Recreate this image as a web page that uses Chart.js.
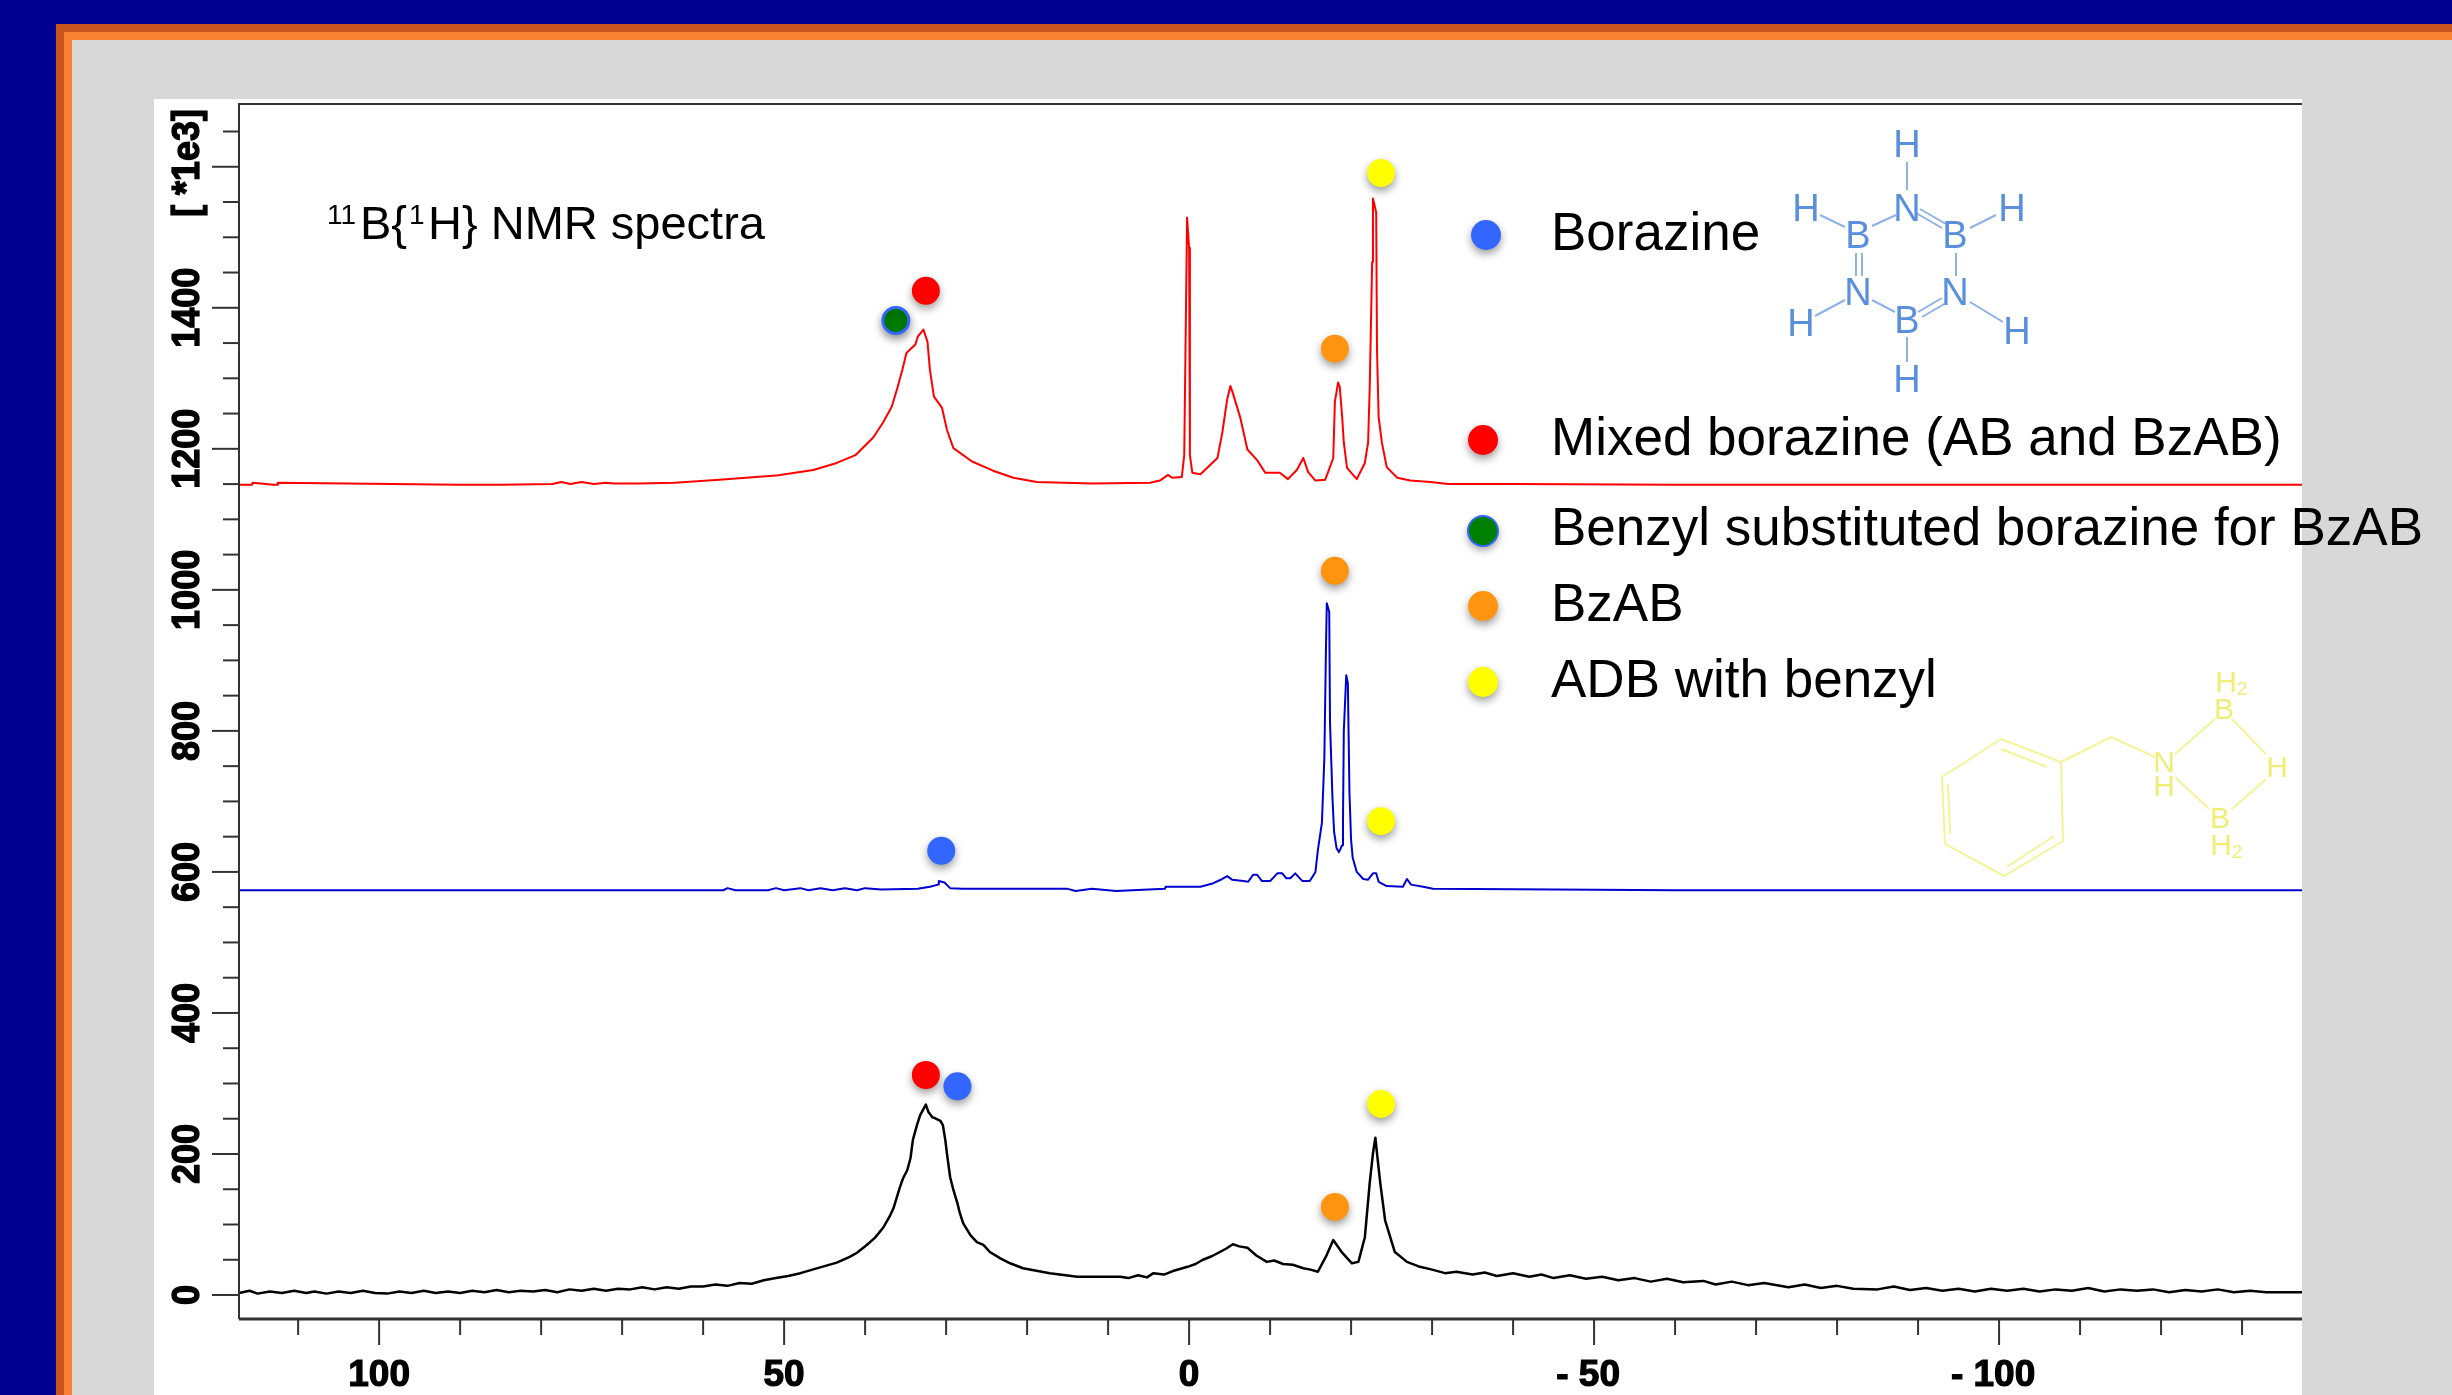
<!DOCTYPE html>
<html>
<head>
<meta charset="utf-8">
<title>11B{1H} NMR spectra</title>
<script src="https://cdn.jsdelivr.net/npm/chart.js@4/dist/chart.umd.js"></script>
<style>
  html, body { margin: 0; padding: 0; background: #d8d8d8; }
  canvas { display: block; }
</style>
</head>
<body>
<canvas id="grafico" width="2452" height="1395"></canvas>
<script>
// espectro superior (rojo)
const rojoX = [117.3,115.7,115.6,113,112.6,112.5,90,85,78.6,77.5,76.4,75,73.5,72,71,68,63.5,58,51,50.5,46.4,43.5,41.2,39,37.8,36.7,36,35.4,34.9,33.8,33.5,32.8,32.3,32,31.5,30.5,29.9,29.1,26.8,24.2,21.7,18.8,12,4.8,3.6,2.6,2.1,0.9,0.6,0.25,0,-0.1,-0.4,-1.4,-3.5,-4.1,-4.7,-5.1,-5.4,-6.3,-7.2,-8.4,-9.4,-11.2,-12.2,-13.3,-14.1,-14.7,-15.6,-16.8,-17.8,-18,-18.4,-18.6,-18.9,-19.1,-19.5,-20.7,-21.7,-22.1,-22.3,-22.6,-22.7,-23.1,-23.2,-23.4,-23.8,-24.4,-25.7,-27.3,-29.8,-32,-40,-60,-137.4];
const rojoY = [1149,1149,1152,1149,1149,1152,1149,1149,1150,1153,1150,1153,1150,1152,1151,1151,1152,1156,1162,1163,1170,1180,1191,1216,1237,1260,1287,1312,1336,1348,1359,1369,1352,1312,1274,1258,1227,1201,1182,1169,1159,1153,1151,1152,1155,1163,1159,1160,1191,1528,1485,1191,1166,1164,1187,1223,1270,1289,1279,1245,1199,1184,1166,1166,1157,1170,1187,1167,1155,1156,1187,1267,1294,1288,1245,1209,1173,1157,1180,1209,1287,1465,1555,1535,1340,1245,1209,1174,1159,1155,1153,1150,1150,1149,1149];

// espectro central (azul)
const azulX = [117.3,80,57.5,57,56,52,51,50,48,47,45.5,44,42.5,41,40,38,33.5,32,31,30.9,30.2,29.5,28,20,15,14,12,9,3,2.9,-1.4,-3,-4.1,-4.7,-5.3,-6.7,-7.3,-7.9,-8.4,-9,-10,-10.9,-11.5,-12,-12.5,-13.1,-14,-14.9,-15.6,-15.9,-16.4,-16.7,-16.9,-17,-17.3,-17.4,-17.7,-17.9,-18.2,-18.5,-18.9,-19,-19.1,-19.4,-19.6,-19.8,-20,-20.2,-20.7,-21.5,-22.1,-22.7,-23.1,-23.4,-24.4,-26.4,-26.9,-27.4,-28.9,-30.1,-45,-60,-137.4];
const azulY = [574,574,574,577,574,574,577,574,577,574,577,574,577,574,577,575,576,579,582,587,585,577,576,576,576,573,576,573,576,579,579,584,590,594,589,587,586,596,596,587,587,598,598,591,591,598,587,587,600,631,670,762,919,981,969,811,705,657,634,628,638,674,799,879,868,712,645,620,600,590,589,598,598,586,580,579,590,582,579,576,575,574,574];

// espectro inferior (negro)
const negroX = [117.3,116,115,113.5,112,110.5,109,108,106.5,105,103.5,102,100.5,99,97.5,96,94.5,93,91.5,90,88.5,87,85.5,84,82.5,81,79.5,78,76.5,75,73.5,72,70.5,69,67.5,66,64.5,63,61.5,60,58.5,57,55.5,54,52.5,51,49.5,48,46.5,45,43.5,41.9,41,39.8,38.8,37.8,36.9,36.5,35.7,35.3,34.8,34.4,34.1,33.6,33.2,32.5,32.2,31.7,31.4,30.7,30.4,30.1,29.9,29.5,29.1,28.6,28.3,27.9,27,26.2,25.4,24.6,23.3,22.1,20.5,17.2,13.8,9.8,8.5,7.5,6.3,5.2,4.4,3.1,2,0.2,-0.8,-1.7,-2.8,-3.8,-4.6,-5.4,-6.2,-7.2,-8.3,-9.6,-10.5,-11.6,-12.8,-14.1,-15,-15.9,-17,-17.8,-18.9,-20.1,-20.9,-21.7,-22.3,-22.7,-23,-23.2,-23.6,-24.2,-25.4,-26.9,-28.5,-30,-31.6,-33,-35,-36.5,-38,-40,-42,-43.5,-45,-47,-49,-51,-53,-55,-57,-59,-61,-63.5,-65,-67,-69,-71,-74,-76,-78,-80,-82,-85,-87,-89,-91,-93,-95,-97,-99,-101,-103,-105,-107,-109,-111,-113,-115,-117,-119,-121,-123,-125,-127,-129,-131,-133,-137.4];
const negroY = [3,6,2,5,3,6,3,5,2,5,3,6,3,2,5,3,6,3,5,3,6,4,7,4,6,5,7,4,8,6,9,6,9,8,11,8,11,9,12,12,15,13,17,16,21,24,27,31,36,41,46,54,60,71,81,95,113,123,153,166,177,194,220,241,255,270,260,252,251,247,241,220,201,167,149,130,116,102,85,75,71,61,52,45,38,31,26,26,26,24,28,25,31,29,34,40,44,50,55,61,66,72,69,67,56,47,49,44,43,38,36,33,57,78,60,45,47,82,159,201,223,201,159,106,61,47,40,36,31,33,29,32,27,31,26,29,24,28,23,26,21,24,19,23,18,20,15,19,14,17,11,15,10,13,9,8,12,7,10,6,9,5,9,6,9,5,8,6,10,5,8,6,8,4,7,5,8,4,6,4,4];

// puntos de color sobre los picos
const borazinaX = [30.6, 28.6];
const borazinaY = [630, 296];
const mixtaX = [32.5, 32.5];
const mixtaY = [1424, 312];
const bencilX = [36.2];
const bencilY = [1382];
const bzabX = [-18, -18, -18];
const bzabY = [1342, 1027, 125];
const adbX = [-23.7, -23.7, -23.7];
const adbY = [1591, 672, 271];

// ejes y textos
const ticksX = [110,100,90,80,70,60,50,40,30,20,10,0,-10,-20,-30,-40,-50,-60,-70,-80,-90,-100,-110,-120,-130];
const ticksY = [0,50,100,150,200,250,300,350,400,450,500,550,600,650,700,750,800,850,900,950,1000,1050,1100,1150,1200,1250,1300,1350,1400,1450,1500,1550,1600,1650];
const valoresEtiquetaX = [100, 50, 0, -50, -100];
const etiquetasX = ['100', '50', '0', '- 50', '- 100'];
const etiquetasY = [0, 200, 400, 600, 800, 1000, 1200, 1400];
const unidadY = '[ *1e3]';
const leyenda = ['Borazine', 'Mixed borazine (AB and BzAB)', 'Benzyl substituted borazine for BzAB', 'BzAB', 'ADB with benzyl'];

const AZUL_PUNTO = '#3366ff', ROJO = '#ff0000', VERDE = '#007f00', NARANJA = '#ff9410', AMARILLO = '#ffff00';
const coloresLeyenda = [AZUL_PUNTO, ROJO, VERDE, NARANJA, AMARILLO];
const posLeyenda = [[1486, 235, 250], [1483, 440, 455], [1483, 531, 545], [1483, 606, 621], [1483, 682, 697]];

function puntos(xs, ys) {
  return xs.map((x, i) => ({ x: x, y: ys[i] }));
}

function linea(ctx, coords) {
  ctx.beginPath();
  ctx.moveTo(coords[0], coords[1]);
  for (let i = 2; i < coords.length; i += 2) ctx.lineTo(coords[i], coords[i + 1]);
  ctx.stroke();
}

function marcador(xs, ys, color, borde) {
  return {
    type: 'scatter',
    data: puntos(xs, ys),
    backgroundColor: color,
    borderColor: borde || color,
    borderWidth: borde ? 3 : 0,
    pointRadius: borde ? 13 : 14,
    pointHoverRadius: 14,
    esMarcador: true,
    order: 0
  };
}

function espectro(xs, ys, color, ancho) {
  return {
    type: 'line',
    data: puntos(xs, ys),
    borderColor: color,
    borderWidth: ancho,
    borderJoinStyle: 'round',
    pointRadius: 0,
    tension: 0,
    order: 1
  };
}

function ponerSombra(ctx) {
  ctx.shadowColor = 'rgba(0,0,0,0.4)';
  ctx.shadowBlur = 9;
  ctx.shadowOffsetX = 0;
  ctx.shadowOffsetY = 4;
}

function textoGrueso(ctx, t, x, y) {
  ctx.fillText(t, x, y);
  ctx.strokeText(t, x, y);
}

const fondo = {
  id: 'fondo',
  beforeDraw(chart) {
    const ctx = chart.ctx;
    ctx.save();
    ctx.fillStyle = '#000090';
    ctx.fillRect(0, 0, 2452, 1395);
    ctx.fillStyle = '#c8541f';
    ctx.fillRect(56, 24, 2396, 1371);
    ctx.fillStyle = '#f98232';
    ctx.fillRect(64, 32, 2388, 1363);
    ctx.fillStyle = '#d8d8d8';
    ctx.fillRect(72, 40, 2380, 1355);
    ctx.fillStyle = '#ffffff';
    ctx.fillRect(154, 99, 2148, 1296);
    ctx.restore();
  }
};

const sombras = {
  id: 'sombras',
  beforeDatasetDraw(chart, args) {
    if (chart.data.datasets[args.index].esMarcador) {
      chart.ctx.save();
      ponerSombra(chart.ctx);
    }
  },
  afterDatasetDraw(chart, args) {
    if (chart.data.datasets[args.index].esMarcador) chart.ctx.restore();
  }
};

const ejes = {
  id: 'ejes',
  afterDatasetsDraw(chart) {
    const ctx = chart.ctx, area = chart.chartArea;
    const sx = chart.scales.x, sy = chart.scales.y;
    ctx.save();
    ctx.strokeStyle = '#333333';
    ctx.lineWidth = 2;
    linea(ctx, [area.left, area.bottom, area.left, area.top, area.right, area.top]);
    ctx.lineWidth = 3;
    linea(ctx, [area.left, area.bottom, area.right, area.bottom]);
    ctx.lineWidth = 2;
    ticksX.forEach(v => {
      const px = sx.getPixelForValue(v);
      linea(ctx, [px, area.bottom, px, area.bottom + (v % 50 === 0 ? 26 : 16)]);
    });
    ticksY.forEach(v => {
      const py = sy.getPixelForValue(v);
      linea(ctx, [area.left, py, area.left - (v % 200 === 0 ? 27 : 16), py]);
    });
    ctx.fillStyle = '#000000';
    ctx.strokeStyle = '#000000';
    ctx.lineWidth = 1.2;
    ctx.font = 'bold 37px "Liberation Sans"';
    ctx.textAlign = 'center';
    ctx.textBaseline = 'alphabetic';
    etiquetasX.forEach((t, i) => {
      const px = sx.getPixelForValue(valoresEtiquetaX[i]);
      textoGrueso(ctx, t, px - (t[0] === '-' ? 6 : 0), 1386);
    });
    ctx.font = 'bold 36px "Liberation Sans"';
    etiquetasY.forEach(v => {
      ctx.save();
      ctx.translate(199, sy.getPixelForValue(v));
      ctx.rotate(-Math.PI / 2);
      ctx.scale(1, 1.1);
      textoGrueso(ctx, String(v), 0, 0);
      ctx.restore();
    });
    ctx.save();
    ctx.translate(199, 163);
    ctx.rotate(-Math.PI / 2);
    ctx.scale(1, 1.1);
    textoGrueso(ctx, unidadY, 0, 0);
    ctx.restore();
    ctx.restore();
  }
};

const textos = {
  id: 'textos',
  afterDraw(chart) {
    const ctx = chart.ctx;
    ctx.save();
    ctx.fillStyle = '#000000';
    ctx.textAlign = 'left';
    ctx.textBaseline = 'alphabetic';

    // titulo con superindices
    const trozos = [['11', 327, 224, 28], ['B{', 360, 239, 47], ['1', 409, 224, 28], ['H} NMR spectra', 428, 239, 47]];
    trozos.forEach(t => {
      ctx.font = t[3] + 'px "Liberation Sans"';
      ctx.fillText(t[0], t[1], t[2]);
    });

    // leyenda
    ctx.font = '53px "Liberation Sans"';
    leyenda.forEach((t, i) => {
      const p = posLeyenda[i];
      ctx.save();
      ponerSombra(ctx);
      ctx.fillStyle = coloresLeyenda[i];
      ctx.beginPath();
      ctx.arc(p[0], p[1], 15, 0, Math.PI * 2);
      ctx.fill();
      if (i === 2) {
        ctx.shadowColor = 'transparent';
        ctx.strokeStyle = AZUL_PUNTO;
        ctx.lineWidth = 2;
        ctx.stroke();
      }
      ctx.restore();
      ctx.fillText(t, 1551, p[2]);
    });

    dibujarBorazina(ctx);
    dibujarBencil(ctx);
    ctx.restore();
  }
};

function dibujarBorazina(ctx) {
  ctx.strokeStyle = '#8fb2e4';
  ctx.fillStyle = '#5a8fdc';
  ctx.lineWidth = 2;
  [
    [1907,162,1907,190], [1916,213,1942,228], [1920,209,1946,224], [1896,215,1872,226],
    [1845,227,1820,215], [1970,228,1996,215], [1856,253,1856,276], [1862,253,1862,276],
    [1956,253,1956,276], [1845,300,1815,316], [1872,300,1895,312], [1942,298,1918,312],
    [1946,303,1922,317], [1970,302,2003,322], [1907,337,1907,362]
  ].forEach(b => linea(ctx, b));
  ctx.font = '38px "Liberation Sans"';
  ctx.textAlign = 'center';
  ctx.textBaseline = 'middle';
  [
    ['H',1907,147], ['N',1907,211], ['B',1955,238], ['B',1858,238], ['N',1858,295], ['N',1955,295],
    ['B',1907,323], ['H',1907,382], ['H',1806,211], ['H',2012,211], ['H',1801,326], ['H',2017,334]
  ].forEach(a => ctx.fillText(a[0], a[1], a[2]));
}

function dibujarBencil(ctx) {
  ctx.strokeStyle = '#f3f39a';
  ctx.fillStyle = '#eeee77';
  ctx.lineWidth = 2;
  linea(ctx, [2001,739, 2061,762, 2063,841, 2004,876, 1945,844, 1942,777, 2001,739]);
  linea(ctx, [2001,749, 2047,767]);
  linea(ctx, [2054,836, 2007,867]);
  linea(ctx, [1950,834, 1948,784]);
  linea(ctx, [2061,762, 2111,737, 2155,757]);
  linea(ctx, [2175,754, 2215,719]);
  linea(ctx, [2232,719, 2266,754]);
  linea(ctx, [2266,779, 2232,809]);
  linea(ctx, [2175,777, 2209,809]);
  ctx.font = '30px "Liberation Sans"';
  ctx.textAlign = 'center';
  ctx.textBaseline = 'middle';
  [['N',2164,764], ['H',2164,788], ['B',2224,711], ['H',2277,769], ['B',2220,820]].forEach(a => ctx.fillText(a[0], a[1], a[2]));
  [['H',2226,684], ['H',2221,847]].forEach(a => {
    ctx.font = '30px "Liberation Sans"';
    ctx.fillText(a[0], a[1], a[2]);
    ctx.font = '19px "Liberation Sans"';
    ctx.fillText('2', a[1] + 16, a[2] + 6);
  });
}

const grafico = new Chart(document.getElementById('grafico').getContext('2d'), {
  data: {
    datasets: [
      marcador(borazinaX, borazinaY, AZUL_PUNTO),
      marcador(mixtaX, mixtaY, ROJO),
      marcador(bencilX, bencilY, VERDE, AZUL_PUNTO),
      marcador(bzabX, bzabY, NARANJA),
      marcador(adbX, adbY, AMARILLO),
      espectro(rojoX, rojoY, '#ff0000', 2),
      espectro(azulX, azulY, '#0000d0', 2),
      espectro(negroX, negroY, '#000000', 2.5)
    ]
  },
  options: {
    responsive: false,
    animation: false,
    devicePixelRatio: 1,
    layout: { padding: { left: 239, top: 104, right: 150, bottom: 76 } },
    plugins: { legend: { display: false }, tooltip: { enabled: false } },
    scales: {
      x: {
        type: 'linear',
        reverse: true,
        min: -137.4,
        max: 117.3,
        grid: { display: false, drawTicks: false },
        border: { display: false },
        ticks: { display: false }
      },
      y: {
        type: 'linear',
        min: -34,
        max: 1689,
        grid: { display: false, drawTicks: false },
        border: { display: false },
        ticks: { display: false }
      }
    }
  },
  plugins: [fondo, sombras, ejes, textos]
});
</script>
</body>
</html>
